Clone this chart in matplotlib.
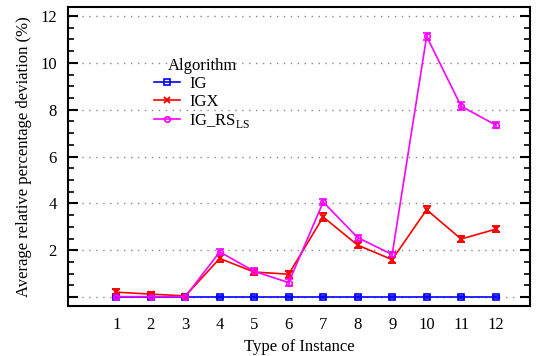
import matplotlib
matplotlib.use("Agg")
import matplotlib.pyplot as plt
from matplotlib.ticker import MultipleLocator, FixedLocator
from matplotlib.lines import Line2D

plt.rcParams['font.family'] = ['Liberation Serif', 'DejaVu Serif']
plt.rcParams['mathtext.fontset'] = 'custom'
plt.rcParams['mathtext.rm'] = 'Liberation Serif'

instances = [1, 2, 3, 4, 5, 6, 7, 8, 9, 10, 11, 12]
ig = [0, 0, 0, 0, 0, 0, 0, 0, 0, 0, 0, 0]
ig_err = [0.03] * 12
igx = [0.21, 0.13, 0.05, 1.65, 1.07, 0.98, 3.42, 2.22, 1.6, 3.73, 2.48, 2.9]
igx_err = [0.12, 0.1, 0.06, 0.15, 0.13, 0.15, 0.17, 0.14, 0.13, 0.14, 0.13, 0.14]
igrs = [0.02, 0.02, 0.02, 1.93, 1.1, 0.62, 4.06, 2.54, 1.82, 11.13, 8.15, 7.35]
igrs_err = [0.06, 0.06, 0.06, 0.14, 0.13, 0.15, 0.13, 0.13, 0.12, 0.14, 0.17, 0.14]

fig = plt.figure(figsize=(5.42, 3.56), dpi=100)
ax = fig.add_axes([0.1255, 0.1404, 0.8525, 0.8396])

styles = [
    dict(color='#0000ff', marker='s', markersize=4, markerfacecolor='none', markeredgewidth=1.2),
    dict(color='#ff0000', marker='x', markersize=5, markeredgewidth=1.4),
    dict(color='#ff00ff', marker='o', markersize=4, markerfacecolor='none', markeredgewidth=1.2),
]
labels = ['IG', 'IGX', r'IG_RS$_{\mathrm{LS}}$']
for y, e, st in zip([ig, igx, igrs], [ig_err, igx_err, igrs_err], styles):
    ax.errorbar(instances, y, yerr=e, lw=1.2, capsize=3, **st)

ax.set_xlim(-0.4, 13.0)
ax.set_ylim(-0.38, 12.38)
ax.set_xticks(instances)
ax.tick_params(axis='x', length=0, labelsize=12, pad=8)
ax.yaxis.set_major_locator(FixedLocator([0, 2, 4, 6, 8, 10, 12]))
ax.set_yticklabels(['', '2', '4', '6', '8', '10', '12'])
ax.yaxis.set_minor_locator(MultipleLocator(0.5))
ax.tick_params(axis='y', which='major', direction='in', length=7, width=1.5,
               left=True, right=True, labelsize=12, pad=8)
ax.tick_params(axis='y', which='minor', direction='in', length=4, width=1.2,
               left=True, right=True)
ax.grid(axis='y', which='major', linestyle=(0, (1, 4)), color='#888888', lw=1)
for s in ax.spines.values():
    s.set_linewidth(1.5)

ax.set_xlabel('Type of Instance', fontsize=12)
ax.set_ylabel('Average relative percentage deviation (%)', fontsize=12, labelpad=6)

handles = [Line2D([], [], lw=1.2, **st) for st in styles]
leg = ax.legend(handles, labels, title='Algorithm', loc='upper left',
                bbox_to_anchor=(0.16, 0.87), frameon=False, fontsize=12,
                title_fontsize=12, handlelength=1.6, labelspacing=0.12,
                borderpad=0.2, handletextpad=0.55)

fig.savefig('out.png', dpi=100)
